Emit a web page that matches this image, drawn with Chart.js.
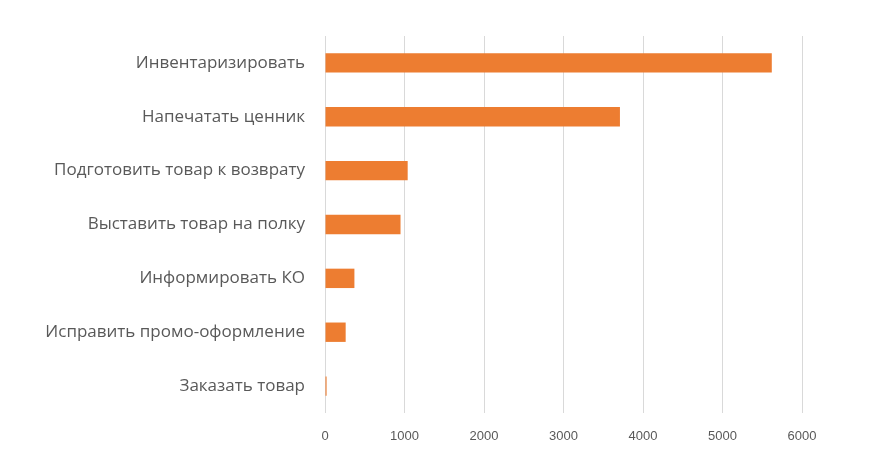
<!DOCTYPE html>
<html>
<head>
<meta charset="utf-8">
<script src="https://cdn.jsdelivr.net/npm/chart.js@4"></script>
<style>
    html, body { margin: 0; padding: 0; background: #ffffff; }
    #wrap { width: 882px; height: 458px; }
</style>
</head>
<body>
<div id="wrap"><canvas id="taskChart"></canvas></div>
<script>
// Task categories (top to bottom)
const categories = [
    'Инвентаризировать',
    'Напечатать ценник',
    'Подготовить товар к возврату',
    'Выставить товар на полку',
    'Информировать КО',
    'Исправить промо-оформление',
    'Заказать товар'
];

// Values
const taskCounts = [5620, 3710, 1040, 950, 370, 260, 20];

// X axis ticks
const xTicks = [0, 1000, 2000, 3000, 4000, 5000, 6000];

const ctx = document.getElementById('taskChart').getContext('2d');

new Chart(ctx, {
    type: 'bar',
    data: {
        labels: categories,
        datasets: [{
            data: taskCounts,
            backgroundColor: '#ed7d31',
            borderWidth: 0,
            barPercentage: 0.36,
            categoryPercentage: 1.0
        }]
    },
    options: {
        indexAxis: 'y',
        responsive: true,
        maintainAspectRatio: false,
        animation: false,
        layout: {
            padding: { left: 0, right: 80, top: 36, bottom: 0 }
        },
        plugins: {
            legend: { display: false },
            tooltip: { enabled: false }
        },
        scales: {
            x: {
                min: 0,
                max: 6000,
                afterBuildTicks: axis => {
                    axis.ticks = xTicks.map(v => ({ value: v }));
                },
                afterFit: axis => { axis.height = 45; },
                grid: {
                    color: '#d9d9d9',
                    drawTicks: false
                },
                border: { display: false },
                ticks: {
                    padding: 16,
                    color: '#595959',
                    font: { family: 'Liberation Sans', size: 13 },
                    callback: v => String(v)
                }
            },
            y: {
                grid: { display: false, drawTicks: false },
                border: { display: false },
                afterFit: axis => { axis.width = 325; },
                ticks: {
                    padding: 20,
                    color: '#595959',
                    font: { family: 'Open Sans', size: 17 }
                }
            }
        }
    }
});
</script>
</body>
</html>
